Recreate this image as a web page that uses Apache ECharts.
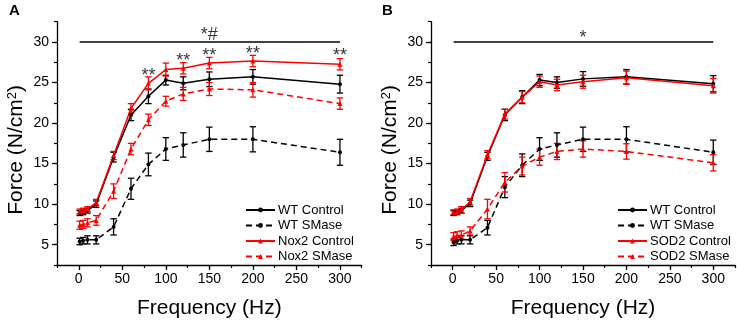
<!DOCTYPE html>
<html>
<head>
<meta charset="utf-8">
<script src="https://cdn.jsdelivr.net/npm/echarts@6/dist/echarts.min.js"></script>
<style>
html,body{margin:0;padding:0;background:#fff;}
#chart{width:737px;height:324px;}
</style>
</head>
<body>
<div id="chart"></div>
<script>
// ---------- data ----------
const freq = [1, 5, 10, 20, 40, 60, 80, 100, 120, 150, 200, 300];

// Panel A
const wtCtrlA      = [8.9, 9.0, 9.2, 10.0, 15.8, 21.0, 23.3, 25.3, 24.9, 25.4, 25.7, 24.8];
const wtCtrlErrA   = [0.3, 0.3, 0.3, 0.4, 0.6, 0.7, 0.9, 0.6, 0.8, 0.9, 0.9, 1.1];
const wtSmaseA     = [5.4, 5.5, 5.6, 5.6, 7.2, 11.9, 14.9, 16.8, 17.3, 18.0, 18.0, 16.4];
const wtSmaseErrA  = [0.4, 0.4, 0.5, 0.5, 1.0, 1.3, 1.4, 1.4, 1.5, 1.5, 1.55, 1.6];
const nox2CtrlA    = [9.1, 9.2, 9.4, 10.2, 16.0, 21.8, 24.9, 26.6, 26.75, 27.4, 27.65, 27.25];
const nox2CtrlErrA = [0.3, 0.3, 0.3, 0.4, 0.5, 0.6, 0.8, 0.8, 0.7, 0.7, 0.7, 0.7];
const nox2SmaseA   = [7.4, 7.5, 7.7, 8.0, 11.6, 16.8, 20.4, 22.7, 23.6, 24.2, 24.1, 22.4];
const nox2SmaseErrA= [0.5, 0.5, 0.5, 0.6, 0.9, 0.7, 0.7, 0.6, 0.8, 0.8, 0.9, 0.7];

// Panel B
const wtCtrlB      = [8.9, 9.0, 9.2, 10.1, 15.9, 21.0, 23.2, 25.3, 25.0, 25.45, 25.7, 24.85];
const wtCtrlErrB   = [0.3, 0.3, 0.3, 0.4, 0.5, 0.7, 0.8, 0.7, 0.7, 0.9, 0.9, 1.0];
const wtSmaseB     = [5.3, 5.5, 5.6, 5.6, 7.1, 12.1, 14.8, 16.8, 17.3, 18.0, 18.0, 16.4];
const wtSmaseErrB  = [0.4, 0.4, 0.5, 0.5, 0.9, 1.3, 1.4, 1.4, 1.5, 1.5, 1.55, 1.5];
const sod2CtrlB    = [9.0, 9.1, 9.3, 10.3, 16.1, 21.1, 23.2, 25.1, 24.7, 25.1, 25.6, 24.6];
const sod2CtrlErrB = [0.3, 0.3, 0.4, 0.4, 0.5, 0.6, 0.7, 0.7, 0.7, 0.8, 0.8, 0.9];
const sod2SmaseB   = [6.0, 6.1, 6.2, 6.7, 9.4, 12.7, 14.7, 15.8, 16.5, 16.8, 16.5, 15.1];
const sod2SmaseErrB= [0.5, 0.5, 0.5, 0.5, 1.2, 1.2, 1.1, 1.0, 1.0, 1.0, 0.95, 1.0];

// significance annotations
const barRange = [1, 300];
const barLevel = 30;
const sigAText = ['*#'];
const sigAX = [150];
const sigAY = [30.8];
const sigBText = ['*'];
const sigBX = [150];
const sigBY = [30.45];
const starsAText = ['**', '**', '**', '**', '**'];
const starsAX = [80, 120, 150, 200, 300];
const starsAY = [25.85, 27.6, 28.3, 28.55, 28.25];

// axis ticks
const xMajor = [0, 50, 100, 150, 200, 250, 300];
const yMajor = [5, 10, 15, 20, 25, 30];

const legendA = ['WT Control', 'WT SMase', 'Nox2 Control', 'Nox2 SMase'];
const legendB = ['WT Control', 'WT SMase', 'SOD2 Control', 'SOD2 SMase'];

// ---------- build ----------
const FONT = "'Liberation Sans', Arial, sans-serif";
const BLACK = '#000000';
const RED = '#ff0000';

function pairs(ys) { return freq.map((f, i) => [f, ys[i]]); }
function errs(ys, es) { return freq.map((f, i) => [f, ys[i] - es[i], ys[i] + es[i]]); }

function lineSeries(name, ys, panel, color, dashed, symbol) {
  return {
    type: 'line', name: name, xAxisIndex: panel * 2, yAxisIndex: panel * 2,
    data: pairs(ys), symbol: symbol, symbolSize: symbol === 'triangle' ? 5 : 4,
    showSymbol: true,
    lineStyle: { color: color, width: 1.5, type: dashed ? [6, 4] : 'solid' },
    itemStyle: { color: color },
    emphasis: { disabled: true }, animation: false, z: 3
  };
}
function errSeries(ys, es, panel, color) {
  return {
    type: 'custom', xAxisIndex: panel * 2, yAxisIndex: panel * 2,
    data: errs(ys, es), encode: { x: 0, y: [1, 2] }, animation: false, silent: true, z: 2,
    renderItem: function (params, api) {
      const x = api.value(0), lo = api.value(1), hi = api.value(2);
      const p1 = api.coord([x, lo]), p2 = api.coord([x, hi]);
      const w = 3.2;
      const st = { stroke: color, lineWidth: 1.3 };
      return {
        type: 'group', children: [
          { type: 'line', shape: { x1: p1[0], y1: p1[1], x2: p2[0], y2: p2[1] }, style: st },
          { type: 'line', shape: { x1: p1[0] - w, y1: p1[1], x2: p1[0] + w, y2: p1[1] }, style: st },
          { type: 'line', shape: { x1: p2[0] - w, y1: p2[1], x2: p2[0] + w, y2: p2[1] }, style: st }
        ]
      };
    }
  };
}
function textSeries(xs, ys, texts, panel, size) {
  return {
    type: 'scatter', xAxisIndex: panel * 2, yAxisIndex: panel * 2, silent: true, animation: false,
    symbolSize: 1, itemStyle: { color: 'rgba(0,0,0,0)' }, z: 5,
    data: xs.map((x, i) => ({ value: [x, ys[i]], label: { formatter: texts[i] } })),
    label: { show: true, position: 'inside', color: BLACK, fontSize: size, fontFamily: FONT }
  };
}
function barSeries(panel) {
  return {
    type: 'line', xAxisIndex: panel * 2, yAxisIndex: panel * 2, silent: true, animation: false,
    data: barRange.map(x => [x, barLevel]), symbol: 'none',
    lineStyle: { color: BLACK, width: 1.5 }, z: 3
  };
}

function xAxes(grid) {
  return [{
    type: 'value', gridIndex: grid, position: 'bottom', min: -25, max: 325, interval: 25,
    axisLine: { show: true, onZero: false, lineStyle: { color: BLACK, width: 1.3 } },
    axisTick: { show: true, inside: false, length: 5, customValues: xMajor, lineStyle: { color: BLACK, width: 1.2 } },
    axisLabel: { customValues: xMajor, color: BLACK, fontSize: 14, fontFamily: FONT, margin: 7 },
    splitLine: { show: false },
    name: 'Frequency (Hz)', nameLocation: 'middle', nameGap: 33,
    nameTextStyle: { color: BLACK, fontSize: 21, fontFamily: FONT }
  }, {
    type: 'value', gridIndex: grid, position: 'bottom', min: -25, max: 325, interval: 25,
    axisLine: { show: false, onZero: false },
    axisTick: { show: true, inside: false, length: 3, lineStyle: { color: BLACK, width: 1.2 } },
    axisLabel: { show: false }, splitLine: { show: false }
  }];
}
function yAxes(grid) {
  return [{
    type: 'value', gridIndex: grid, position: 'left', min: 2.5, max: 32.5, interval: 2.5,
    axisLine: { show: true, onZero: false, lineStyle: { color: BLACK, width: 1.3 } },
    axisTick: { show: true, inside: false, length: 5, customValues: yMajor, lineStyle: { color: BLACK, width: 1.2 } },
    axisLabel: { customValues: yMajor, color: BLACK, fontSize: 14, fontFamily: FONT, margin: 8 },
    splitLine: { show: false },
    name: '{n|Force (N/cm}{s|2}{n|)}', nameLocation: 'middle', nameGap: 30,
    nameTextStyle: {
      padding: [0, 13, 0, 0],
      rich: {
        n: { color: BLACK, fontSize: 21, fontFamily: FONT },
        s: { color: BLACK, fontSize: 13, fontFamily: FONT, verticalAlign: 'top' }
      }
    }
  }, {
    type: 'value', gridIndex: grid, position: 'left', min: 2.5, max: 32.5, interval: 2.5,
    axisLine: { show: false, onZero: false },
    axisTick: { show: true, inside: false, length: 3, lineStyle: { color: BLACK, width: 1.2 } },
    axisLabel: { show: false }, splitLine: { show: false }
  }];
}
function legend(names, left) {
  return {
    data: names, orient: 'vertical', left: left, top: 203, itemWidth: 29, itemHeight: 6,
    itemGap: 1.5, padding: 0, selectedMode: false,
    textStyle: { color: BLACK, fontSize: 13, fontFamily: FONT, lineHeight: 14, padding: [0, 0, 0, -2] }
  };
}

const option = {
  animation: false,
  backgroundColor: '#ffffff',
  title: [
    { text: 'A', left: 9, top: 3, padding: 0, textStyle: { fontSize: 15, fontWeight: 'bold', color: BLACK, fontFamily: FONT } },
    { text: 'B', left: 382, top: 3, padding: 0, textStyle: { fontSize: 15, fontWeight: 'bold', color: BLACK, fontFamily: FONT } }
  ],
  grid: [
    { left: 57, right: 375.3, top: 21.7, bottom: 56.7 },
    { left: 431, right: 2, top: 21.7, bottom: 56.7 }
  ],
  xAxis: [...xAxes(0), ...xAxes(1)],
  yAxis: [...yAxes(0), ...yAxes(1)],
  legend: [legend(legendA, 245), legend(legendB, 617)],
  series: [
    barSeries(0),
    textSeries(sigAX, sigAY, sigAText, 0, 18),
    textSeries(starsAX, starsAY, starsAText, 0, 18),
    errSeries(wtCtrlA, wtCtrlErrA, 0, BLACK),
    errSeries(wtSmaseA, wtSmaseErrA, 0, BLACK),
    errSeries(nox2CtrlA, nox2CtrlErrA, 0, RED),
    errSeries(nox2SmaseA, nox2SmaseErrA, 0, RED),
    lineSeries('WT Control', wtCtrlA, 0, BLACK, false, 'circle'),
    lineSeries('WT SMase', wtSmaseA, 0, BLACK, true, 'circle'),
    lineSeries('Nox2 Control', nox2CtrlA, 0, RED, false, 'triangle'),
    lineSeries('Nox2 SMase', nox2SmaseA, 0, RED, true, 'triangle'),

    barSeries(1),
    textSeries(sigBX, sigBY, sigBText, 1, 18),
    errSeries(wtCtrlB, wtCtrlErrB, 1, BLACK),
    errSeries(wtSmaseB, wtSmaseErrB, 1, BLACK),
    errSeries(sod2CtrlB, sod2CtrlErrB, 1, RED),
    errSeries(sod2SmaseB, sod2SmaseErrB, 1, RED),
    lineSeries('WT Control', wtCtrlB, 1, BLACK, false, 'circle'),
    lineSeries('WT SMase', wtSmaseB, 1, BLACK, true, 'circle'),
    lineSeries('SOD2 Control', sod2CtrlB, 1, RED, false, 'triangle'),
    lineSeries('SOD2 SMase', sod2SmaseB, 1, RED, true, 'triangle')
  ]
};

const chart = echarts.init(document.getElementById('chart'), null, { renderer: 'canvas' });
chart.setOption(option);
</script>
</body>
</html>
